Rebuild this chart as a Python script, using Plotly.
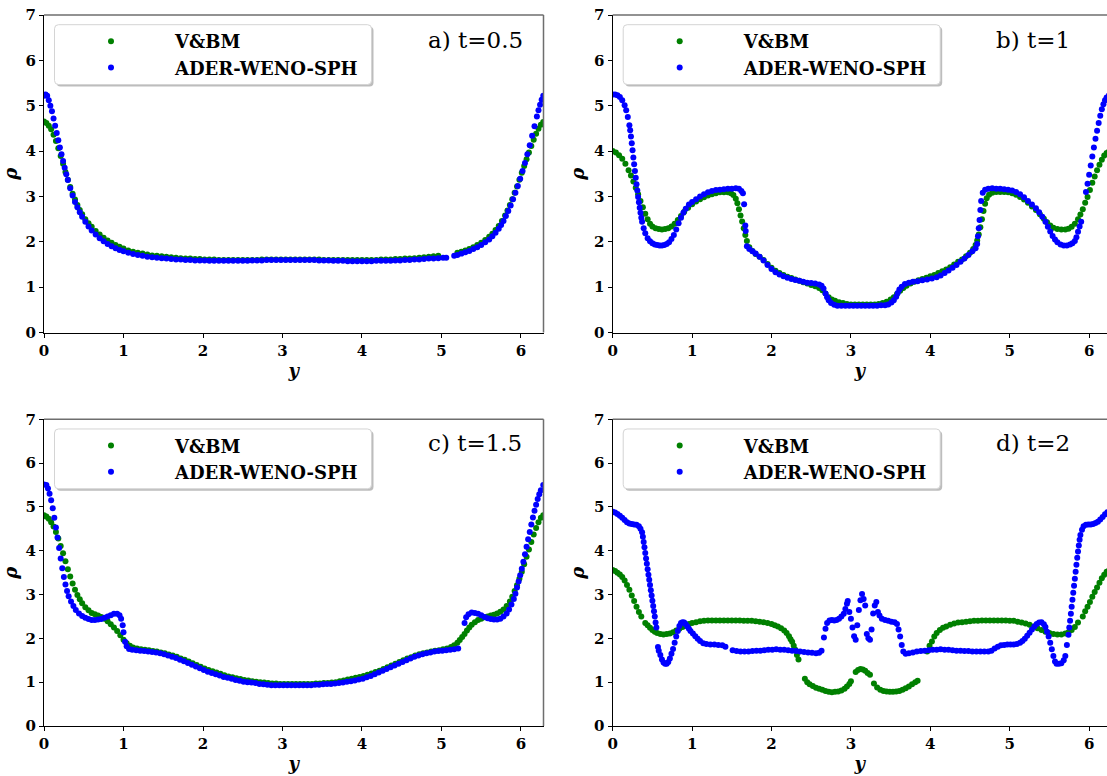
import plotly.graph_objects as go

# ---------------------------------------------------------------------------
# Density profiles rho(y) at four output times.
# V&BM = reference solution, ADER-WENO-SPH = particle solution.
# ---------------------------------------------------------------------------

# a) t = 0.5
Y_A_VBM = [0.00, 0.03, 0.06, 0.09, 0.12, 0.15, 0.18, 0.21, 0.24, 0.27, 0.30, 0.33, 0.36, 0.39, 0.42,
           0.45, 0.48, 0.52, 0.56, 0.60, 0.65, 0.70, 0.75, 0.80, 0.85, 0.90, 0.95, 1.00, 1.06, 1.12,
           1.18, 1.24, 1.30, 1.36, 1.42, 1.48, 1.54, 1.60, 1.66, 1.72, 1.78, 1.84, 1.90, 1.96, 2.02,
           2.08, 2.14, 2.20, 2.26, 2.32, 2.38, 2.44, 2.50, 2.56, 2.62, 2.68, 2.74, 2.80, 2.86, 2.92,
           2.98, 3.04, 3.10, 3.16, 3.22, 3.28, 3.34, 3.40, 3.46, 3.52, 3.58, 3.64, 3.70, 3.76, 3.82,
           3.88, 3.94, 4.00, 4.06, 4.12, 4.18, 4.24, 4.30, 4.36, 4.42, 4.48, 4.54, 4.60, 4.66, 4.72,
           4.78, 4.84, 4.90, 4.96, 5.20, 5.25, 5.30, 5.35, 5.40, 5.45, 5.50, 5.55, 5.60, 5.64, 5.68,
           5.72, 5.76, 5.80, 5.83, 5.86, 5.89, 5.92, 5.95, 5.98, 6.01, 6.04, 6.07, 6.10, 6.13, 6.16,
           6.19, 6.22, 6.25, 6.28]
RHO_A_VBM = [4.65, 4.62, 4.56, 4.48, 4.36, 4.22, 4.06, 3.89, 3.72, 3.54, 3.37, 3.21, 3.06, 2.93, 2.81,
             2.70, 2.61, 2.50, 2.41, 2.33, 2.24, 2.16, 2.09, 2.03, 1.98, 1.93, 1.89, 1.85, 1.81, 1.78,
             1.76, 1.74, 1.72, 1.70, 1.69, 1.68, 1.67, 1.66, 1.65, 1.64, 1.63, 1.63, 1.62, 1.62, 1.61,
             1.61, 1.61, 1.60, 1.60, 1.60, 1.60, 1.60, 1.60, 1.60, 1.60, 1.60, 1.61, 1.61, 1.61, 1.61,
             1.61, 1.61, 1.61, 1.61, 1.61, 1.61, 1.61, 1.61, 1.61, 1.60, 1.60, 1.60, 1.60, 1.60, 1.60,
             1.60, 1.60, 1.60, 1.60, 1.60, 1.60, 1.61, 1.61, 1.61, 1.62, 1.62, 1.63, 1.63, 1.64, 1.65,
             1.66, 1.67, 1.68, 1.69, 1.76, 1.78, 1.81, 1.84, 1.88, 1.93, 1.98, 2.04, 2.11, 2.18, 2.26,
             2.35, 2.46, 2.58, 2.69, 2.81, 2.94, 3.08, 3.22, 3.37, 3.52, 3.67, 3.82, 3.97, 4.11, 4.25,
             4.38, 4.49, 4.58, 4.64]

Y_A_ADER = [0.00, 0.02, 0.04, 0.06, 0.08, 0.10, 0.12, 0.14, 0.16, 0.18, 0.20, 0.22, 0.24, 0.26, 0.28,
            0.30, 0.33, 0.36, 0.39, 0.42, 0.45, 0.48, 0.52, 0.56, 0.60, 0.65, 0.70, 0.75, 0.80, 0.85,
            0.90, 0.95, 1.00, 1.06, 1.12, 1.18, 1.24, 1.30, 1.36, 1.42, 1.48, 1.54, 1.60, 1.66, 1.72,
            1.78, 1.84, 1.90, 1.96, 2.02, 2.08, 2.14, 2.20, 2.26, 2.32, 2.38, 2.44, 2.50, 2.56, 2.62,
            2.68, 2.74, 2.80, 2.86, 2.92, 2.98, 3.04, 3.10, 3.16, 3.22, 3.28, 3.34, 3.40, 3.46, 3.52,
            3.58, 3.64, 3.70, 3.76, 3.82, 3.88, 3.94, 4.00, 4.06, 4.12, 4.18, 4.24, 4.30, 4.36, 4.42,
            4.48, 4.54, 4.60, 4.66, 4.72, 4.78, 4.84, 4.90, 4.96, 5.02, 5.06, 5.16, 5.20, 5.25, 5.30,
            5.35, 5.40, 5.45, 5.50, 5.55, 5.60, 5.64, 5.68, 5.72, 5.75, 5.78, 5.81, 5.84, 5.87, 5.90,
            5.93, 5.96, 5.99, 6.02, 6.05, 6.08, 6.11, 6.14, 6.17, 6.20, 6.22, 6.24, 6.26, 6.28]
RHO_A_ADER = [5.22, 5.25, 5.22, 5.12, 5.00, 4.88, 4.72, 4.56, 4.40, 4.24, 4.08, 3.93, 3.78, 3.63, 3.49,
              3.36, 3.18, 3.02, 2.88, 2.76, 2.65, 2.55, 2.44, 2.34, 2.25, 2.16, 2.08, 2.01, 1.95, 1.90,
              1.86, 1.82, 1.79, 1.76, 1.73, 1.71, 1.69, 1.67, 1.66, 1.65, 1.64, 1.63, 1.62, 1.61, 1.61,
              1.60, 1.60, 1.59, 1.59, 1.59, 1.58, 1.58, 1.58, 1.58, 1.58, 1.58, 1.58, 1.58, 1.58, 1.59,
              1.59, 1.59, 1.60, 1.60, 1.60, 1.60, 1.60, 1.60, 1.60, 1.60, 1.60, 1.60, 1.60, 1.59, 1.59,
              1.59, 1.58, 1.58, 1.58, 1.57, 1.57, 1.57, 1.57, 1.57, 1.57, 1.58, 1.58, 1.58, 1.58, 1.59,
              1.59, 1.60, 1.60, 1.61, 1.61, 1.62, 1.63, 1.63, 1.64, 1.65, 1.65, 1.69, 1.71, 1.74, 1.77,
              1.80, 1.84, 1.88, 1.93, 1.99, 2.05, 2.12, 2.20, 2.29, 2.37, 2.46, 2.57, 2.68, 2.80, 2.94,
              3.08, 3.23, 3.39, 3.56, 3.74, 3.93, 4.13, 4.34, 4.55, 4.76, 4.90, 5.02, 5.13, 5.22]

# b) t = 1
Y_B_VBM = [0.00, 0.04, 0.08, 0.12, 0.16, 0.20, 0.23, 0.26, 0.29, 0.32, 0.35, 0.38, 0.41, 0.44, 0.47,
           0.50, 0.54, 0.58, 0.62, 0.66, 0.70, 0.74, 0.78, 0.82, 0.86, 0.90, 0.95, 1.00, 1.05, 1.10,
           1.15, 1.20, 1.25, 1.30, 1.35, 1.40, 1.45, 1.49, 1.52, 1.55, 1.57, 1.59, 1.61, 1.63, 1.65,
           1.67, 1.69, 1.72, 1.76, 1.80, 1.85, 1.90, 1.95, 2.00, 2.05, 2.10, 2.15, 2.20, 2.25, 2.30,
           2.35, 2.40, 2.45, 2.50, 2.55, 2.60, 2.64, 2.68, 2.72, 2.76, 2.80, 2.85, 2.90, 2.95, 3.00,
           3.05, 3.10, 3.15, 3.20, 3.25, 3.30, 3.35, 3.40, 3.45, 3.50, 3.54, 3.58, 3.62, 3.66, 3.70,
           3.75, 3.80, 3.85, 3.90, 3.95, 4.00, 4.05, 4.10, 4.15, 4.20, 4.25, 4.30, 4.35, 4.40, 4.45,
           4.50, 4.54, 4.57, 4.59, 4.61, 4.63, 4.65, 4.67, 4.69, 4.71, 4.74, 4.78, 4.83, 4.88, 4.93,
           4.98, 5.03, 5.08, 5.13, 5.18, 5.23, 5.28, 5.33, 5.38, 5.43, 5.47, 5.51, 5.55, 5.60, 5.65,
           5.70, 5.74, 5.78, 5.82, 5.86, 5.89, 5.92, 5.95, 5.98, 6.01, 6.04, 6.07, 6.10, 6.13, 6.16,
           6.19, 6.22, 6.25, 6.28]
RHO_B_VBM = [4.00, 3.97, 3.91, 3.83, 3.72, 3.58, 3.46, 3.33, 3.19, 3.05, 2.90, 2.76, 2.62, 2.50, 2.40,
             2.34, 2.30, 2.28, 2.27, 2.28, 2.30, 2.34, 2.40, 2.48, 2.57, 2.66, 2.75, 2.83, 2.89, 2.94,
             2.98, 3.02, 3.05, 3.07, 3.09, 3.09, 3.09, 3.07, 3.03, 2.95, 2.85, 2.72, 2.58, 2.45, 2.30,
             2.15, 2.02, 1.88, 1.80, 1.73, 1.67, 1.60, 1.51, 1.43, 1.36, 1.31, 1.27, 1.23, 1.20, 1.17,
             1.14, 1.11, 1.08, 1.05, 1.02, 0.98, 0.93, 0.86, 0.78, 0.73, 0.70, 0.67, 0.65, 0.63, 0.62,
             0.62, 0.62, 0.62, 0.62, 0.62, 0.62, 0.63, 0.65, 0.68, 0.73, 0.78, 0.85, 0.92, 0.98, 1.03,
             1.08, 1.12, 1.15, 1.18, 1.21, 1.24, 1.27, 1.31, 1.35, 1.39, 1.44, 1.50, 1.56, 1.61, 1.68,
             1.76, 1.84, 1.93, 2.03, 2.16, 2.32, 2.50, 2.68, 2.84, 2.96, 3.04, 3.08, 3.10, 3.10, 3.10,
             3.09, 3.07, 3.04, 2.99, 2.93, 2.86, 2.78, 2.70, 2.61, 2.51, 2.43, 2.36, 2.31, 2.28, 2.27,
             2.27, 2.29, 2.33, 2.40, 2.50, 2.60, 2.72, 2.86, 2.99, 3.14, 3.30, 3.44, 3.58, 3.70, 3.81,
             3.90, 3.96, 3.99, 4.00]

Y_B_ADER = [0.00, 0.03, 0.06, 0.09, 0.12, 0.15, 0.17, 0.19, 0.21, 0.22, 0.23, 0.24, 0.25, 0.26, 0.27,
            0.28, 0.29, 0.30, 0.31, 0.32, 0.33, 0.34, 0.35, 0.36, 0.37, 0.39, 0.41, 0.44, 0.47, 0.50,
            0.53, 0.56, 0.59, 0.62, 0.65, 0.68, 0.71, 0.74, 0.77, 0.80, 0.83, 0.86, 0.89, 0.92, 0.96,
            1.00, 1.05, 1.10, 1.15, 1.20, 1.25, 1.30, 1.35, 1.40, 1.45, 1.50, 1.55, 1.59, 1.62, 1.64,
            1.655, 1.67, 1.675, 1.69, 1.72, 1.76, 1.80, 1.85, 1.90, 1.95, 2.00, 2.05, 2.10, 2.15, 2.20,
            2.25, 2.30, 2.35, 2.40, 2.45, 2.50, 2.55, 2.60, 2.63, 2.655, 2.68, 2.70, 2.72, 2.75, 2.79,
            2.83, 2.88, 2.93, 2.98, 3.03, 3.08, 3.13, 3.18, 3.23, 3.28, 3.33, 3.38, 3.43, 3.47, 3.51,
            3.54, 3.57, 3.59, 3.61, 3.64, 3.68, 3.73, 3.78, 3.84, 3.90, 3.96, 4.02, 4.08, 4.13, 4.18,
            4.23, 4.28, 4.33, 4.38, 4.43, 4.48, 4.53, 4.57, 4.59, 4.60, 4.61, 4.62, 4.63, 4.64, 4.66,
            4.69, 4.73, 4.78, 4.83, 4.88, 4.93, 4.98, 5.03, 5.08, 5.13, 5.18, 5.23, 5.28, 5.33, 5.37,
            5.41, 5.45, 5.48, 5.51, 5.54, 5.57, 5.60, 5.64, 5.68, 5.72, 5.76, 5.79, 5.82, 5.84, 5.86,
            5.88, 5.90, 5.96, 5.98, 6.00, 6.02, 6.04, 6.06, 6.08, 6.10, 6.12, 6.14, 6.16, 6.18, 6.20,
            6.22, 6.25, 6.28]
RHO_B_ADER = [5.25, 5.25, 5.23, 5.19, 5.12, 5.01, 4.90, 4.75, 4.57, 4.46, 4.32, 4.17, 4.02, 3.86, 3.71,
              3.56, 3.41, 3.27, 3.13, 2.99, 2.87, 2.75, 2.64, 2.53, 2.44, 2.30, 2.19, 2.08, 2.01, 1.97,
              1.94, 1.93, 1.92, 1.92, 1.93, 1.95, 1.99, 2.06, 2.15, 2.27, 2.41, 2.53, 2.64, 2.73, 2.82,
              2.88, 2.94, 3.00, 3.05, 3.09, 3.12, 3.14, 3.15, 3.16, 3.17, 3.17, 3.18, 3.17, 3.12, 3.07,
              2.83, 2.36, 2.24, 1.90, 1.84, 1.79, 1.74, 1.67, 1.59, 1.49, 1.40, 1.33, 1.28, 1.24, 1.21,
              1.18, 1.16, 1.14, 1.12, 1.10, 1.09, 1.08, 1.06, 1.03, 0.97, 0.86, 0.78, 0.71, 0.65, 0.61,
              0.59, 0.59, 0.59, 0.59, 0.59, 0.59, 0.59, 0.59, 0.59, 0.59, 0.59, 0.60, 0.60, 0.62, 0.66,
              0.71, 0.79, 0.87, 0.95, 1.01, 1.07, 1.10, 1.12, 1.13, 1.15, 1.17, 1.19, 1.22, 1.26, 1.31,
              1.37, 1.43, 1.49, 1.56, 1.63, 1.71, 1.79, 1.86, 1.95, 2.12, 2.30, 2.48, 2.70, 2.90, 3.08,
              3.15, 3.17, 3.18, 3.17, 3.17, 3.16, 3.15, 3.13, 3.10, 3.05, 2.98, 2.90, 2.82, 2.74, 2.65,
              2.55, 2.44, 2.33, 2.23, 2.13, 2.05, 1.99, 1.94, 1.92, 1.92, 1.94, 1.97, 2.02, 2.10, 2.22,
              2.34, 2.44, 3.10, 3.28, 3.48, 3.68, 3.88, 4.08, 4.27, 4.45, 4.62, 4.78, 4.92, 5.03, 5.12,
              5.18, 5.23, 5.25]

# c) t = 1.5
Y_C_VBM = [0.00, 0.03, 0.06, 0.09, 0.12, 0.15, 0.18, 0.21, 0.24, 0.27, 0.30, 0.33, 0.36, 0.39, 0.42,
           0.45, 0.48, 0.52, 0.56, 0.60, 0.64, 0.68, 0.72, 0.76, 0.80, 0.84, 0.88, 0.92, 0.96, 1.00,
           1.04, 1.08, 1.12, 1.17, 1.22, 1.27, 1.32, 1.37, 1.42, 1.47, 1.52, 1.57, 1.62, 1.67, 1.72,
           1.77, 1.82, 1.87, 1.92, 1.97, 2.02, 2.07, 2.12, 2.17, 2.22, 2.27, 2.32, 2.37, 2.42, 2.47,
           2.52, 2.57, 2.62, 2.67, 2.72, 2.77, 2.82, 2.87, 2.92, 2.97, 3.02, 3.07, 3.12, 3.17, 3.22,
           3.27, 3.32, 3.37, 3.42, 3.47, 3.52, 3.57, 3.62, 3.67, 3.72, 3.77, 3.82, 3.87, 3.92, 3.97,
           4.02, 4.07, 4.12, 4.17, 4.22, 4.27, 4.32, 4.37, 4.42, 4.47, 4.52, 4.57, 4.62, 4.67, 4.72,
           4.77, 4.82, 4.87, 4.92, 4.97, 5.02, 5.07, 5.12, 5.16, 5.20, 5.23, 5.26, 5.29, 5.32, 5.35,
           5.38, 5.42, 5.46, 5.50, 5.54, 5.58, 5.62, 5.66, 5.70, 5.74, 5.78, 5.82, 5.86, 5.89, 5.92,
           5.95, 5.98, 6.01, 6.04, 6.07, 6.10, 6.13, 6.16, 6.19, 6.22, 6.25, 6.28]
RHO_C_VBM = [4.81, 4.78, 4.73, 4.65, 4.55, 4.43, 4.28, 4.11, 3.94, 3.76, 3.58, 3.41, 3.25, 3.11, 2.99,
             2.89, 2.80, 2.71, 2.64, 2.58, 2.55, 2.52, 2.49, 2.45, 2.39, 2.32, 2.25, 2.17, 2.07, 1.97,
             1.89, 1.83, 1.79, 1.77, 1.75, 1.74, 1.73, 1.71, 1.70, 1.68, 1.66, 1.63, 1.61, 1.58, 1.54,
             1.51, 1.47, 1.43, 1.39, 1.35, 1.31, 1.28, 1.25, 1.22, 1.19, 1.16, 1.13, 1.11, 1.09, 1.07,
             1.05, 1.04, 1.02, 1.01, 1.00, 0.99, 0.98, 0.97, 0.97, 0.96, 0.96, 0.96, 0.96, 0.96, 0.96,
             0.96, 0.96, 0.96, 0.97, 0.97, 0.98, 0.98, 0.99, 1.00, 1.02, 1.04, 1.06, 1.08, 1.10, 1.12,
             1.14, 1.17, 1.20, 1.23, 1.26, 1.30, 1.34, 1.38, 1.42, 1.46, 1.50, 1.54, 1.57, 1.61, 1.64,
             1.66, 1.68, 1.70, 1.72, 1.73, 1.75, 1.77, 1.80, 1.84, 1.90, 1.96, 2.03, 2.10, 2.18, 2.25,
             2.31, 2.37, 2.42, 2.45, 2.48, 2.50, 2.52, 2.54, 2.57, 2.61, 2.66, 2.74, 2.84, 2.95, 3.08,
             3.21, 3.36, 3.52, 3.69, 3.86, 4.03, 4.20, 4.37, 4.52, 4.65, 4.75, 4.81]

Y_C_ADER = [0.00, 0.03, 0.05, 0.07, 0.09, 0.11, 0.13, 0.15, 0.17, 0.19, 0.21, 0.23, 0.25, 0.27, 0.29,
            0.31, 0.34, 0.37, 0.40, 0.44, 0.48, 0.52, 0.56, 0.60, 0.64, 0.68, 0.72, 0.76, 0.80, 0.84,
            0.88, 0.92, 0.95, 0.97, 0.99, 1.00, 1.02, 1.04, 1.07, 1.11, 1.16, 1.21, 1.26, 1.31, 1.36,
            1.41, 1.46, 1.51, 1.56, 1.61, 1.66, 1.71, 1.76, 1.81, 1.86, 1.91, 1.96, 2.01, 2.06, 2.11,
            2.16, 2.21, 2.26, 2.31, 2.36, 2.41, 2.46, 2.51, 2.56, 2.61, 2.66, 2.71, 2.76, 2.81, 2.86,
            2.91, 2.96, 3.01, 3.06, 3.11, 3.16, 3.21, 3.26, 3.31, 3.36, 3.41, 3.46, 3.51, 3.56, 3.61,
            3.66, 3.71, 3.76, 3.81, 3.86, 3.91, 3.96, 4.01, 4.06, 4.11, 4.16, 4.21, 4.26, 4.31, 4.36,
            4.41, 4.46, 4.51, 4.56, 4.61, 4.66, 4.71, 4.76, 4.81, 4.86, 4.91, 4.96, 5.01, 5.06, 5.11,
            5.16, 5.21, 5.29, 5.31, 5.34, 5.38, 5.42, 5.46, 5.50, 5.54, 5.58, 5.62, 5.66, 5.70, 5.74,
            5.78, 5.82, 5.85, 5.88, 5.91, 5.93, 5.95, 5.97, 5.99, 6.01, 6.03, 6.05, 6.07, 6.09, 6.11,
            6.13, 6.15, 6.17, 6.19, 6.21, 6.23, 6.25, 6.28]
RHO_C_ADER = [5.51, 5.50, 5.42, 5.30, 5.15, 4.97, 4.75, 4.53, 4.30, 4.06, 3.82, 3.60, 3.40, 3.23, 3.08,
              2.96, 2.84, 2.74, 2.65, 2.57, 2.51, 2.47, 2.44, 2.42, 2.42, 2.43, 2.44, 2.47, 2.50, 2.53,
              2.56, 2.56, 2.53, 2.45, 2.30, 2.14, 1.92, 1.82, 1.76, 1.74, 1.73, 1.72, 1.71, 1.70, 1.69,
              1.68, 1.66, 1.64, 1.61, 1.58, 1.55, 1.51, 1.48, 1.44, 1.40, 1.36, 1.32, 1.28, 1.24, 1.21,
              1.18, 1.15, 1.12, 1.10, 1.08, 1.05, 1.03, 1.01, 1.00, 0.99, 0.98, 0.96, 0.95, 0.94, 0.93,
              0.93, 0.93, 0.93, 0.93, 0.93, 0.93, 0.93, 0.93, 0.93, 0.93, 0.94, 0.94, 0.95, 0.96, 0.96,
              0.97, 0.98, 0.99, 1.01, 1.02, 1.04, 1.06, 1.08, 1.11, 1.14, 1.18, 1.22, 1.26, 1.30, 1.34,
              1.38, 1.42, 1.46, 1.50, 1.54, 1.58, 1.61, 1.64, 1.66, 1.68, 1.70, 1.71, 1.72, 1.73, 1.74,
              1.75, 1.77, 2.35, 2.48, 2.55, 2.59, 2.58, 2.56, 2.53, 2.49, 2.46, 2.44, 2.43, 2.43, 2.45,
              2.50, 2.57, 2.66, 2.77, 2.90, 3.02, 3.16, 3.30, 3.44, 3.59, 3.75, 3.92, 4.09, 4.26, 4.43,
              4.60, 4.76, 4.91, 5.05, 5.18, 5.29, 5.38, 5.50]

# d) t = 2
Y_D_VBM = [0.00, 0.03, 0.06, 0.09, 0.12, 0.15, 0.18, 0.21, 0.24, 0.27, 0.30, 0.33, 0.36, 0.41, 0.44,
           0.47, 0.50, 0.53, 0.56, 0.60, 0.64, 0.68, 0.72, 0.76, 0.80, 0.84, 0.88, 0.92, 0.96, 1.00,
           1.05, 1.10, 1.15, 1.20, 1.25, 1.30, 1.35, 1.40, 1.45, 1.50, 1.55, 1.60, 1.65, 1.70, 1.75,
           1.80, 1.85, 1.90, 1.95, 2.00, 2.04, 2.08, 2.12, 2.16, 2.19, 2.22, 2.24, 2.26, 2.28, 2.30,
           2.32, 2.34, 2.42, 2.45, 2.48, 2.52, 2.56, 2.60, 2.64, 2.68, 2.72, 2.76, 2.80, 2.84, 2.88,
           2.92, 2.95, 2.98, 3.00, 3.06, 3.09, 3.12, 3.15, 3.18, 3.21, 3.24, 3.29, 3.33, 3.37, 3.41,
           3.45, 3.49, 3.53, 3.57, 3.61, 3.65, 3.69, 3.73, 3.77, 3.81, 3.84, 3.96, 3.99, 4.02, 4.05,
           4.08, 4.12, 4.16, 4.20, 4.25, 4.30, 4.35, 4.40, 4.45, 4.50, 4.55, 4.60, 4.65, 4.70, 4.75,
           4.80, 4.85, 4.90, 4.95, 5.00, 5.05, 5.10, 5.15, 5.20, 5.25, 5.30, 5.35, 5.40, 5.45, 5.50,
           5.55, 5.60, 5.65, 5.70, 5.74, 5.78, 5.82, 5.86, 5.92, 5.95, 5.98, 6.01, 6.04, 6.07, 6.10,
           6.13, 6.16, 6.19, 6.22, 6.25, 6.28]
RHO_D_VBM = [3.56, 3.54, 3.50, 3.46, 3.40, 3.32, 3.22, 3.11, 2.98, 2.85, 2.72, 2.60, 2.50, 2.35, 2.30,
             2.24, 2.19, 2.15, 2.12, 2.10, 2.09, 2.10, 2.11, 2.14, 2.18, 2.22, 2.26, 2.30, 2.33, 2.35,
             2.37, 2.39, 2.40, 2.41, 2.41, 2.41, 2.41, 2.41, 2.41, 2.41, 2.41, 2.41, 2.40, 2.40, 2.40,
             2.39, 2.38, 2.37, 2.35, 2.33, 2.30, 2.27, 2.23, 2.18, 2.12, 2.05, 1.98, 1.92, 1.83, 1.74,
             1.62, 1.52, 1.08, 1.00, 0.95, 0.91, 0.87, 0.85, 0.83, 0.80, 0.78, 0.77, 0.78, 0.79, 0.81,
             0.85, 0.90, 0.96, 1.02, 1.23, 1.28, 1.30, 1.29, 1.26, 1.21, 1.17, 0.97, 0.88, 0.83, 0.80,
             0.79, 0.78, 0.78, 0.79, 0.80, 0.83, 0.86, 0.90, 0.95, 1.00, 1.03, 1.70, 1.83, 1.93, 2.04,
             2.12, 2.19, 2.24, 2.27, 2.31, 2.34, 2.36, 2.37, 2.38, 2.39, 2.40, 2.40, 2.41, 2.41, 2.41,
             2.41, 2.41, 2.41, 2.41, 2.40, 2.40, 2.38, 2.36, 2.34, 2.31, 2.27, 2.23, 2.19, 2.15, 2.12,
             2.10, 2.09, 2.09, 2.11, 2.14, 2.19, 2.26, 2.36, 2.50, 2.62, 2.72, 2.83, 2.95, 3.06, 3.16,
             3.27, 3.37, 3.45, 3.52, 3.55, 3.56]

Y_D_ADER = [0.00, 0.03, 0.06, 0.09, 0.12, 0.15, 0.18, 0.21, 0.24, 0.27, 0.30, 0.33, 0.35, 0.37, 0.38,
            0.39, 0.40, 0.41, 0.42, 0.43, 0.44, 0.45, 0.46, 0.47, 0.48, 0.49, 0.50, 0.51, 0.52, 0.53,
            0.54, 0.55, 0.57, 0.58, 0.60, 0.62, 0.64, 0.66, 0.68, 0.70, 0.72, 0.74, 0.76, 0.78, 0.80,
            0.82, 0.84, 0.86, 0.88, 0.90, 0.92, 0.94, 0.96, 0.98, 1.01, 1.04, 1.07, 1.10, 1.14, 1.18,
            1.23, 1.28, 1.33, 1.38, 1.42, 1.51, 1.56, 1.61, 1.66, 1.71, 1.76, 1.81, 1.86, 1.91, 1.96,
            2.01, 2.06, 2.11, 2.16, 2.21, 2.26, 2.31, 2.36, 2.41, 2.46, 2.51, 2.56, 2.60, 2.63, 2.66,
            2.68, 2.70, 2.73, 2.76, 2.79, 2.82, 2.85, 2.88, 2.91, 2.93, 2.95, 2.96, 2.98, 3.00, 3.02,
            3.04, 3.06, 3.08, 3.10, 3.12, 3.14, 3.16, 3.18, 3.20, 3.22, 3.24, 3.26, 3.28, 3.30, 3.32,
            3.34, 3.36, 3.39, 3.43, 3.47, 3.51, 3.55, 3.58, 3.60, 3.62, 3.64, 3.66, 3.69, 3.73, 3.78,
            3.83, 3.88, 3.93, 3.98, 4.03, 4.08, 4.13, 4.18, 4.23, 4.28, 4.33, 4.38, 4.43, 4.48, 4.53,
            4.58, 4.63, 4.68, 4.73, 4.77, 4.81, 4.85, 4.89, 4.93, 4.97, 5.01, 5.05, 5.09, 5.13, 5.16,
            5.19, 5.22, 5.25, 5.28, 5.31, 5.34, 5.37, 5.40, 5.43, 5.45, 5.47, 5.49, 5.51, 5.53, 5.55,
            5.57, 5.59, 5.62, 5.65, 5.68, 5.70, 5.72, 5.74, 5.75, 5.76, 5.77, 5.78, 5.79, 5.80, 5.81,
            5.82, 5.83, 5.84, 5.85, 5.86, 5.87, 5.88, 5.89, 5.91, 5.93, 5.96, 5.99, 6.02, 6.05, 6.08,
            6.11, 6.14, 6.17, 6.20, 6.23, 6.26, 6.28]
RHO_D_ADER = [4.89, 4.87, 4.84, 4.80, 4.75, 4.70, 4.65, 4.62, 4.61, 4.60, 4.59, 4.56, 4.50, 4.42, 4.32,
              4.20, 4.08, 3.95, 3.82, 3.70, 3.58, 3.45, 3.34, 3.22, 3.10, 2.98, 2.86, 2.74, 2.62, 2.50,
              2.36, 2.25, 1.80, 1.72, 1.62, 1.52, 1.45, 1.42, 1.42, 1.46, 1.54, 1.65, 1.76, 1.90, 2.04,
              2.17, 2.28, 2.35, 2.37, 2.36, 2.32, 2.27, 2.22, 2.17, 2.11, 2.05, 1.99, 1.94, 1.89, 1.87,
              1.86, 1.86, 1.85, 1.84, 1.81, 1.73, 1.71, 1.70, 1.70, 1.70, 1.71, 1.72, 1.72, 1.73, 1.74,
              1.74, 1.75, 1.74, 1.74, 1.73, 1.72, 1.71, 1.70, 1.69, 1.68, 1.67, 1.66, 1.67, 1.72, 2.02,
              2.22, 2.35, 2.41, 2.42, 2.41, 2.42, 2.45, 2.50, 2.56, 2.67, 2.79, 2.85, 2.60, 2.45, 2.25,
              2.05, 1.97, 2.30, 2.65, 2.87, 3.01, 2.90, 2.75, 2.10, 2.00, 1.97, 2.20, 2.57, 2.75, 2.83,
              2.60, 2.52, 2.45, 2.42, 2.40, 2.38, 2.37, 2.33, 2.20, 2.04, 1.85, 1.70, 1.65, 1.66, 1.68,
              1.70, 1.71, 1.72, 1.73, 1.74, 1.74, 1.75, 1.74, 1.74, 1.73, 1.72, 1.72, 1.71, 1.71, 1.70,
              1.70, 1.70, 1.70, 1.70, 1.72, 1.77, 1.81, 1.84, 1.85, 1.86, 1.86, 1.86, 1.87, 1.90, 1.94,
              1.99, 2.06, 2.13, 2.20, 2.27, 2.33, 2.36, 2.37, 2.32, 2.26, 2.15, 2.04, 1.90, 1.75, 1.60,
              1.47, 1.42, 1.42, 1.43, 1.50, 1.60, 1.85, 2.08, 2.25, 2.40, 2.56, 2.72, 2.88, 3.04, 3.20,
              3.36, 3.52, 3.68, 3.84, 3.98, 4.12, 4.25, 4.36, 4.48, 4.56, 4.59, 4.60, 4.60, 4.61, 4.63,
              4.66, 4.71, 4.77, 4.83, 4.88, 4.90, 4.91]

PANEL_LABELS = ["a) t=0.5", "b) t=1", "c) t=1.5", "d) t=2"]
SERIES_NAMES = ["V&BM", "ADER-WENO-SPH"]
X_TICKS = [0, 1, 2, 3, 4, 5, 6]
Y_TICKS = [0, 1, 2, 3, 4, 5, 6, 7]

PANELS = [
    (Y_A_VBM, RHO_A_VBM, Y_A_ADER, RHO_A_ADER),
    (Y_B_VBM, RHO_B_VBM, Y_B_ADER, RHO_B_ADER),
    (Y_C_VBM, RHO_C_VBM, Y_C_ADER, RHO_C_ADER),
    (Y_D_VBM, RHO_D_VBM, Y_D_ADER, RHO_D_ADER),
]
for p in PANELS:
    assert len(p[0]) == len(p[1]) and len(p[2]) == len(p[3])

# ---------------------------------------------------------------------------
# Layout geometry
# ---------------------------------------------------------------------------
W, H = 1107, 776
ML, MR, MT, MB = 44, 0, 15, 50
PW, PH = W - ML - MR, H - MT - MB

COLORS = ["#008000", "#0000ff"]
SERIF = "DejaVu Serif"
TWO_PI = 6.283185307

X_DOMAINS = [[0.0, 0.4699], [0.535, 1.0], [0.0, 0.4699], [0.535, 1.0]]
Y_DOMAINS = [[0.5534, 1.0], [0.5534, 1.0], [0.0, 0.4314], [0.0, 0.4314]]
X_RANGES = [[0, TWO_PI], [0, 6.225], [0, TWO_PI], [0, 6.225]]


def px_x(paper):
    return ML + paper * PW


def paper_x(px):
    return (px - ML) / PW


def paper_y(py):
    return (H - MB - py) / PH


def rounded_rect(x0, y0, x1, y1, r):
    """SVG path in paper coordinates for a pixel rectangle with rounded corners."""
    rx, ry = r / PW, r / PH
    X0, X1 = paper_x(x0), paper_x(x1)
    Y0, Y1 = paper_y(y0), paper_y(y1)  # Y0 top, Y1 bottom
    return (f"M {X0 + rx},{Y0} L {X1 - rx},{Y0} Q {X1},{Y0} {X1},{Y0 - ry} "
            f"L {X1},{Y1 + ry} Q {X1},{Y1} {X1 - rx},{Y1} "
            f"L {X0 + rx},{Y1} Q {X0},{Y1} {X0},{Y1 + ry} "
            f"L {X0},{Y0 - ry} Q {X0},{Y0} {X0 + rx},{Y0} Z")


fig = go.Figure()
shapes, annotations = [], []
layout = {}

for i, (yv, rv, ya, ra) in enumerate(PANELS):
    n = "" if i == 0 else str(i + 1)
    xa, ya_name = "x" + n, "y" + n
    leg = "legend" + n
    for k, (xs, ys) in enumerate([(yv, rv), (ya, ra)]):
        fig.add_trace(go.Scatter(
            x=xs, y=ys, mode="markers", name=SERIES_NAMES[k],
            marker=dict(color=COLORS[k], size=6, line=dict(width=0)),
            xaxis=xa, yaxis=ya_name, legend=leg, showlegend=True,
        ))

    axis_common = dict(
        showline=True, linecolor="black", linewidth=1.3, mirror=False,
        ticks="outside", ticklen=4, tickwidth=1.2, tickcolor="black",
        showgrid=False, zeroline=False,
        tickfont=dict(family=SERIF, size=15, color="black", weight="bold"),
    )
    layout["xaxis" + n] = dict(
        axis_common, domain=X_DOMAINS[i], range=X_RANGES[i], anchor=ya_name,
        tickvals=X_TICKS,
        title=dict(text="<b><i>y</i></b>", font=dict(family=SERIF, size=18, color="black"), standoff=0),
    )
    layout["yaxis" + n] = dict(
        axis_common, domain=Y_DOMAINS[i], range=[0, 7], anchor=xa,
        tickvals=Y_TICKS,
        title=dict(text="<b><i>ρ</i></b>", font=dict(family=SERIF, size=18, color="black"), standoff=4),
    )

    # top (and right, when visible) frame lines in grey
    shapes.append(dict(type="line", xref=xa + " domain", yref=ya_name + " domain",
                       x0=0, x1=1, y0=1, y1=1, line=dict(color="#6e6e6e", width=1.5)))
    if X_DOMAINS[i][1] < 1.0:
        shapes.append(dict(type="line", xref=xa + " domain", yref=ya_name + " domain",
                           x0=1, x1=1, y0=0, y1=1, line=dict(color="#6e6e6e", width=1.5)))

    # legend frame with drop shadow
    ax_left = px_x(X_DOMAINS[i][0])
    ax_top = MT + (1 - Y_DOMAINS[i][1]) * PH
    bx0, bx1 = ax_left + 10.5, ax_left + 327.5
    by0, by1 = ax_top + 9.7, ax_top + 69.5
    shapes.append(dict(type="path", xref="paper", yref="paper", layer="above",
                       path=rounded_rect(bx0 + 2, by0 + 2, bx1 + 2, by1 + 2, 4),
                       fillcolor="#bdbdbd", line=dict(width=0)))
    shapes.append(dict(type="path", xref="paper", yref="paper", layer="above",
                       path=rounded_rect(bx0, by0, bx1, by1, 4),
                       fillcolor="white", line=dict(color="#d4d4d4", width=1)))

    layout[leg] = dict(
        x=paper_x(ax_left + 3), y=paper_y(ax_top + 8), xanchor="left", yanchor="top",
        xref="paper", yref="paper",
        bgcolor="rgba(0,0,0,0)", borderwidth=0, itemwidth=118,
        font=dict(family=SERIF, size=18, color="black", weight="bold"),
        tracegroupgap=0,
    )

    annotations.append(dict(
        text=PANEL_LABELS[i], xref=xa, yref=ya_name, x=4.80, y=6.45,
        xanchor="left", yanchor="middle", showarrow=False,
        font=dict(family=SERIF, size=23, color="black"),
    ))

fig.update_layout(
    width=W, height=H,
    margin=dict(l=ML, r=MR, t=MT, b=MB, autoexpand=False),
    paper_bgcolor="white", plot_bgcolor="white",
    shapes=shapes, annotations=annotations,
    **layout,
)

fig.write_html("out.html")
